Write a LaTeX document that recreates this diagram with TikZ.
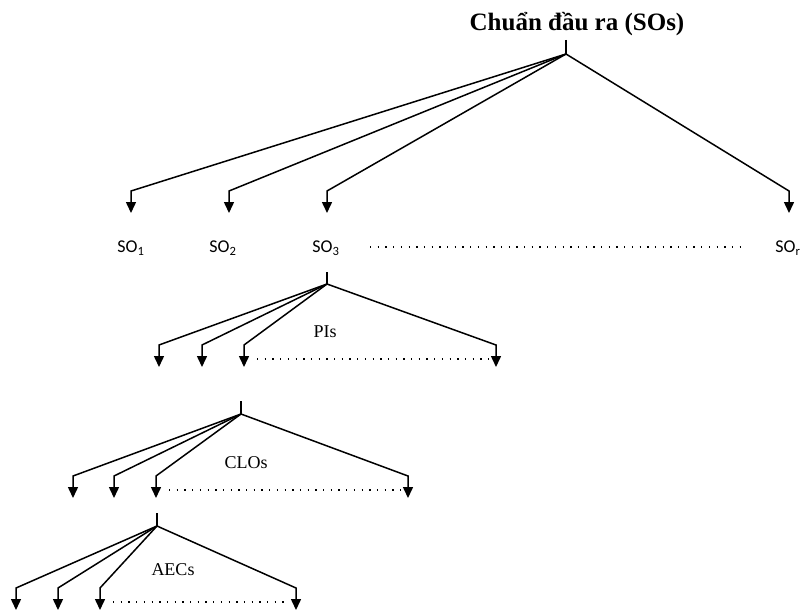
\documentclass[tikz,border=0pt]{standalone}
\usepackage{fontspec}
\setmainfont{Liberation Serif}
\newfontfamily\sofont{Carlito}
\usetikzlibrary{arrows.meta}
\begin{document}
\begin{tikzpicture}[x=1pt,y=-1pt,
  link/.style={line width=1.5pt,-{Triangle[length=11pt,width=10pt]}},
  tick/.style={line width=1.5pt},
  dots/.style={line width=1.3pt,dash pattern=on 1.3pt off 6.4pt},
  lbl/.style={inner sep=0pt,font=\fontsize{18}{21}\selectfont},
  solbl/.style={inner sep=0pt,font=\sofont\fontsize{18}{21}\selectfont}]
\useasboundingbox (0,0) rectangle (802,610);
% title
\node[inner sep=0pt,font=\bfseries\fontsize{25}{30}\selectfont] (title) at (577,24) {Chuẩn đầu ra (SOs)};
\coordinate (t0) at (566,40);
\coordinate (j0) at (566,54);
\draw[tick] (t0) -- (j0);
\foreach \i/\x in {1/131,2/229,3/327,r/789}{
  \coordinate (c\i) at (\x,191);
  \coordinate (a\i) at (\x,213);
  \draw[link] (j0) -- (c\i) -- (a\i);
}
\node[solbl] (so1) at (131,248) {SO\textsubscript{1}};
\node[solbl] (so2) at (223,248) {SO\textsubscript{2}};
\node[solbl] (so3) at (326,248) {SO\textsubscript{3}};
\node[solbl] (sor) at (788,248) {SO\textsubscript{r}};
\coordinate (d1s) at (370,247);
\coordinate (d1e) at (745,247);
\draw[dots] (d1s) -- (d1e);
% PIs level
\coordinate (t1) at (327,272);
\coordinate (j1) at (327,284);
\draw[tick] (t1) -- (j1);
\foreach \i/\x in {1/159,2/202,3/244,4/496}{
  \coordinate (pc\i) at (\x,345);
  \coordinate (pa\i) at (\x,367);
  \draw[link] (j1) -- (pc\i) -- (pa\i);
}
\node[lbl] (pis) at (325,332) {PIs};
\coordinate (d2s) at (257,359);
\coordinate (d2e) at (490,359);
\draw[dots] (d2s) -- (d2e);
% CLOs level
\coordinate (t2) at (241,401);
\coordinate (j2) at (241,414);
\draw[tick] (t2) -- (j2);
\foreach \i/\x in {1/73,2/114,3/156,4/408}{
  \coordinate (cc\i) at (\x,476);
  \coordinate (ca\i) at (\x,498);
  \draw[link] (j2) -- (cc\i) -- (ca\i);
}
\node[lbl] (clos) at (246,463) {CLOs};
\coordinate (d3s) at (169,490);
\coordinate (d3e) at (402,490);
\draw[dots] (d3s) -- (d3e);
% AECs level
\coordinate (t3) at (157,513);
\coordinate (j3) at (157,526);
\draw[tick] (t3) -- (j3);
\foreach \i/\x in {1/16,2/58,3/100,4/296}{
  \coordinate (ec\i) at (\x,588);
  \coordinate (ea\i) at (\x,610);
  \draw[link] (j3) -- (ec\i) -- (ea\i);
}
\node[lbl] (aecs) at (173,570) {AECs};
\coordinate (d4s) at (113,602);
\coordinate (d4e) at (286,602);
\draw[dots] (d4s) -- (d4e);
\end{tikzpicture}
\end{document}
